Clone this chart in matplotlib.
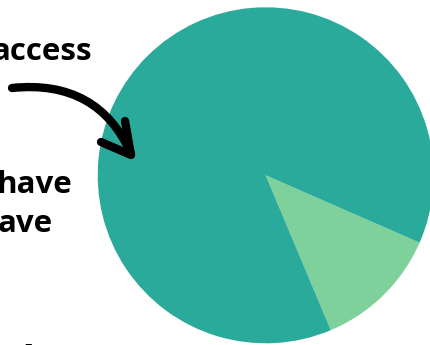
import matplotlib
matplotlib.use("Agg")
import matplotlib.pyplot as plt
from matplotlib.path import Path
from matplotlib.patches import PathPatch

# slice shares (percent), smallest first so it sits in the lower right
shares = [12.1, 87.9]
slice_colors = ["#7ED19A", "#2AAA9A"]

# visible fragments of the cropped caption text on the left
caption_parts = ["access", "have", "ave", "Ant"]
caption_right = [92, 72, 53, None]
caption_base = [60, 193, 232, 365.5]

W, H = 431, 345
fig = plt.figure(figsize=(W / 100, H / 100), dpi=100)

# full-figure axes in pixel coordinates for the text and arrow
ax = fig.add_axes([0, 0, 1, 1])
ax.set_xlim(0, W)
ax.set_ylim(H, 0)
ax.axis("off")

# pie axes: centre (265.7, 175.3), radius 168 px
cx, cy, r = 265.7, 175.3, 168
pax = fig.add_axes([(cx - r) / W, (H - cy - r) / H, 2 * r / W, 2 * r / H])
pax.pie(shares, colors=slice_colors, startangle=-67.2, counterclock=True,
        wedgeprops=dict(linewidth=0))
pax.set_xlim(-1, 1)
pax.set_ylim(-1, 1)
pax.set_zorder(0)
ax.set_zorder(1)
ax.patch.set_alpha(0)

font = dict(family=["Open Sans", "DejaVu Sans"], fontweight="bold", fontsize=22.5, color="black")
for txt, xr, yb in zip(caption_parts, caption_right, caption_base):
    if xr is None:
        ax.text(18, yb, txt, ha="left", va="baseline", **font)
    else:
        ax.text(xr, yb, txt, ha="right", va="baseline", **font)

# hand-drawn style curved arrow
stroke = dict(facecolor="none", edgecolor="black", linewidth=6.0, capstyle="round", joinstyle="round")
curve = Path([(12, 88), (70, 82), (110, 105), (131, 154)],
             [Path.MOVETO, Path.CURVE4, Path.CURVE4, Path.CURVE4])
ax.add_patch(PathPatch(curve, **stroke))
head = Path([(101, 142), (131, 155), (125, 121)],
            [Path.MOVETO, Path.LINETO, Path.LINETO])
ax.add_patch(PathPatch(head, **stroke))

fig.savefig("out.png", dpi=100)
